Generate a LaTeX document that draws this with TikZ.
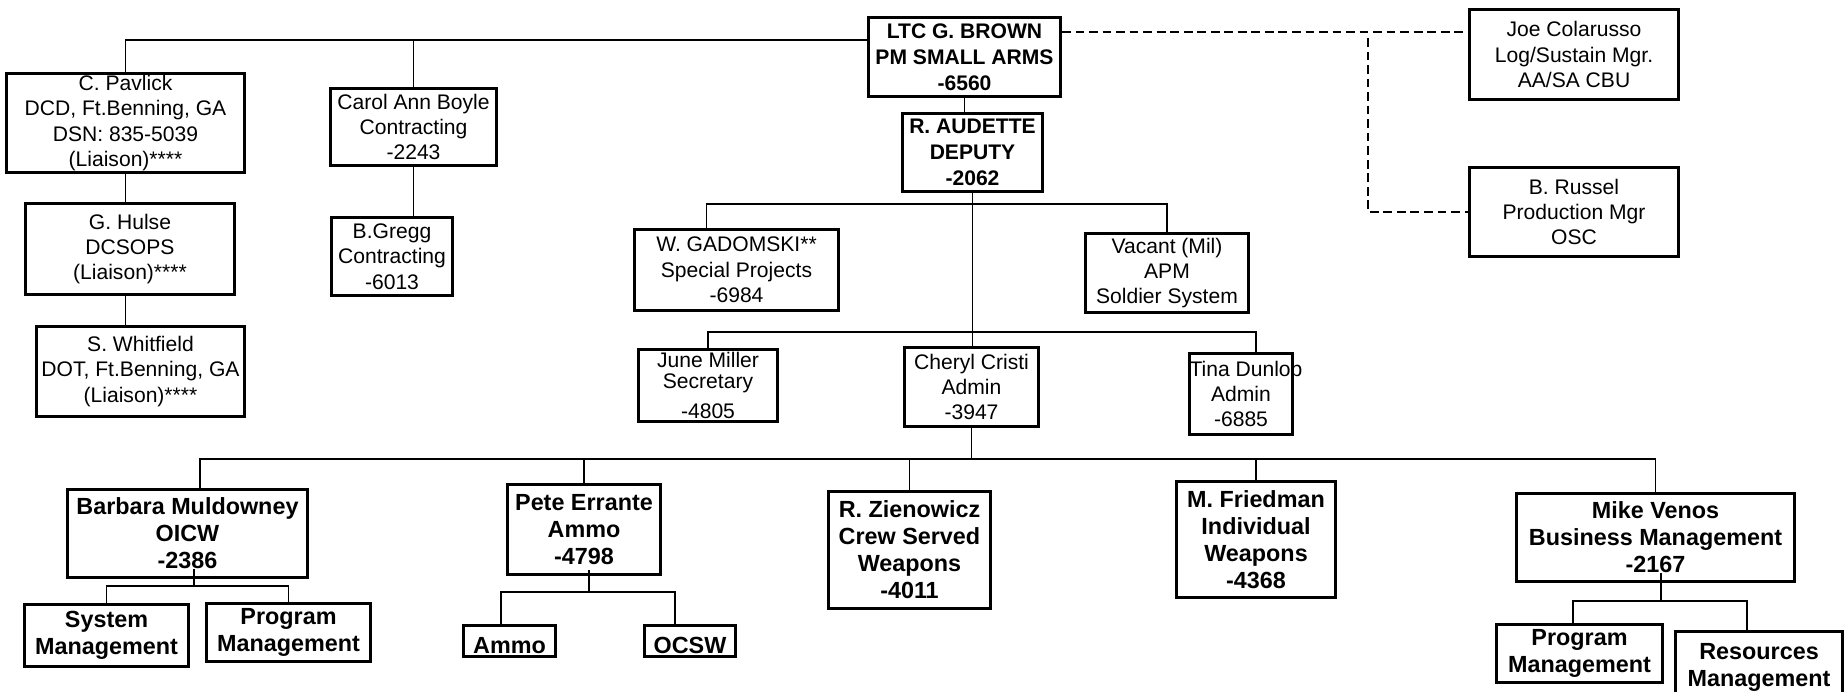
\documentclass[tikz,border=0pt]{standalone}
\usepackage{fontspec}
\setmainfont{Liberation Sans}
\tikzset{
  box/.style 2 args ={rectangle, draw=black, line width=1.7pt, align=center, inner sep=1pt,
                 minimum width=#1*0.02cm-1.7pt, minimum height=#2*0.02cm-1.7pt,
                 font=\fontsize{12}{14.4}\selectfont,
                 execute at begin node={\rule{0pt}{14.5pt}}},
  bbox/.style 2 args={box={#1}{#2}, font=\fontsize{12}{14.8}\selectfont\bfseries},
  lbox/.style 2 args={box={#1}{#2}, font=\fontsize{13.3}{15.4}\selectfont\bfseries},
  conn/.style  ={line width=0.8pt, draw=black},
  dconn/.style ={conn, dash pattern=on 5pt off 2.7pt}
}
\begin{document}
\begin{tikzpicture}[x=0.02cm, y=-0.02cm]
\fill[white] (0,0) rectangle (1845,692);
\useasboundingbox (0,0) rectangle (1845,692);
% ---- PM and deputy ----
\node[bbox={195}{82}] (brown) at (964.5,57) {LTC G. BROWN\\PM SMALL ARMS\\-6560};
\node[bbox={143}{81}] (audette) at (972.5,152.5) {R. AUDETTE\\DEPUTY\\-2062};

% ---- Liaisons and contracting ----
\node[box={241}{100}] (pavlick) at (125.5,123) {C. Pavlick\\DCD, Ft.Benning, GA\\DSN: 835-5039\\(Liaison)****};
\node[box={212}{94}] (hulse) at (130,249) {G. Hulse\\DCSOPS\\(Liaison)****};
\node[box={211}{93}] (whitfield) at (140.5,371.5) {S. Whitfield\\\makebox[0pt]{DOT, Ft.Benning, GA}\\(Liaison)****};
\node[box={169}{80}] (carol) at (413.5,127) {Carol Ann Boyle\\Contracting\\-2243};
\node[box={124}{81}] (gregg) at (392,256.5) {B.Gregg\\Contracting\\-6013};

% ---- Matrix support ----
\node[box={212}{93}] (joe) at (1574,54.5) {Joe Colarusso\\Log/Sustain Mgr.\\AA/SA CBU};
\node[box={212}{92}] (russel) at (1574,212) {B. Russel\\Production Mgr\\OSC};

% ---- Staff ----
\node[box={207}{84}] (gadomski) at (736.5,270) {W. GADOMSKI**\\Special Projects\\-6984};
\node[box={166}{82}] (vacant) at (1167,273) {Vacant (Mil)\\APM\\Soldier System};
\node[box={142}{75}] (june) at (708,385.5) {June Miller\\[-2.3pt]Secretary\\[2.8pt]-4805};
\node[box={137}{82}] (cheryl) at (971.5,387) {Cheryl Cristi\\Admin\\-3947};
\node[box={106}{84}] (tina) at (1241,394) {\makebox[0pt]{\hspace{0.2cm}Tina Dunlop}\\Admin\\-6885};

% ---- Divisions ----
\node[lbox={243}{91}] (barbara) at (187.5,533.5) {Barbara Muldowney\\OICW\\-2386};
\node[lbox={167}{65}] (sysmgmt) at (106.5,635.5) {System\\Management};
\node[lbox={167}{61}] (progA) at (288.5,632.5) {Program\\Management};
\node[lbox={156}{93}] (pete) at (584,529.5) {Pete Errante\\Ammo\\-4798};
\node[lbox={95}{34}] (ammo) at (509.5,641) {Ammo};
\node[lbox={94}{34}] (ocsw) at (690,641) {OCSW};
\node[lbox={165}{120}] (zien) at (909.5,550) {R. Zienowicz\\Crew Served\\Weapons\\-4011};
\node[lbox={162}{119}] (fried) at (1256,539.5) {M. Friedman\\Individual\\Weapons\\-4368};
\node[lbox={281}{91}] (venos) at (1655.5,537.5) {Mike Venos\\Business Management\\-2167};
\node[lbox={169}{61}] (progB) at (1579.5,653.5) {Program\\Management};
\node[lbox={170}{75}] (res) at (1759,667.5) {Resources\\Management};

% ---- Bus levels ----
\coordinate (topbus) at (0,40);
\coordinate (dashbus) at (0,32);
\coordinate (split) at (1368,32);
\coordinate (depbus) at (0,204);
\coordinate (secbus) at (0,332);
\coordinate (divbus) at (0,459);
\coordinate (oicwbus) at (0,586);
\coordinate (ammobus) at (0,592);
\coordinate (bmbus) at (0,601);

% ---- Edges ----
\draw[conn] (pavlick.north) |- (brown.west |- topbus);
\draw[conn] (carol.north) -- (carol.north |- topbus);
\draw[conn] (pavlick.south) -- (pavlick.south |- hulse.north);
\draw[conn] (hulse.south -| pavlick.south) -- (whitfield.north -| pavlick.south);
\draw[conn] (carol.south) -- (carol.south |- gregg.north);
\draw[conn] (brown.south) -- (brown.south |- audette.north);
\draw[dconn] (brown.east |- dashbus) -- (joe.west |- dashbus);
\draw[dconn] ([yshift=-0.12cm]split) |- (russel.west);
\draw[conn] ([xshift=-0.6cm]gadomski.north) |- (vacant.north |- depbus) -- (vacant.north);
\draw[conn] (audette.south) -- (audette.south |- cheryl.north);
\draw[conn] (june.north) |- ([xshift=0.3cm]tina.north |- secbus) -- ([xshift=0.3cm]tina.north);
\draw[conn] ([xshift=0.25cm]barbara.north) |- (venos.north |- divbus) -- (venos.north);
\draw[conn] (cheryl.south) -- (cheryl.south |- divbus);
\foreach \n in {pete, zien, fried}
  \draw[conn] (\n.north) -- (\n.north |- divbus);
\draw[conn] ([xshift=0.13cm,yshift=0.2cm]barbara.south) -- ([xshift=0.13cm]barbara.south |- oicwbus);
\draw[conn] (sysmgmt.north) |- (progA.north |- oicwbus) -- (progA.north);
\draw[conn] ([xshift=0.1cm,yshift=0.12cm]pete.south) -- ([xshift=0.1cm]pete.south |- ammobus);
\draw[conn] ([xshift=-0.17cm]ammo.north) |- ([xshift=-0.3cm]ocsw.north |- ammobus) -- ([xshift=-0.3cm]ocsw.north);
\draw[conn] ([xshift=0.11cm,yshift=0.2cm]venos.south) -- ([xshift=0.11cm]venos.south |- bmbus);
\draw[conn] ([xshift=-0.13cm]progB.north) |- ([xshift=-0.24cm]res.north |- bmbus) -- ([xshift=-0.24cm]res.north);
\end{tikzpicture}
\end{document}
